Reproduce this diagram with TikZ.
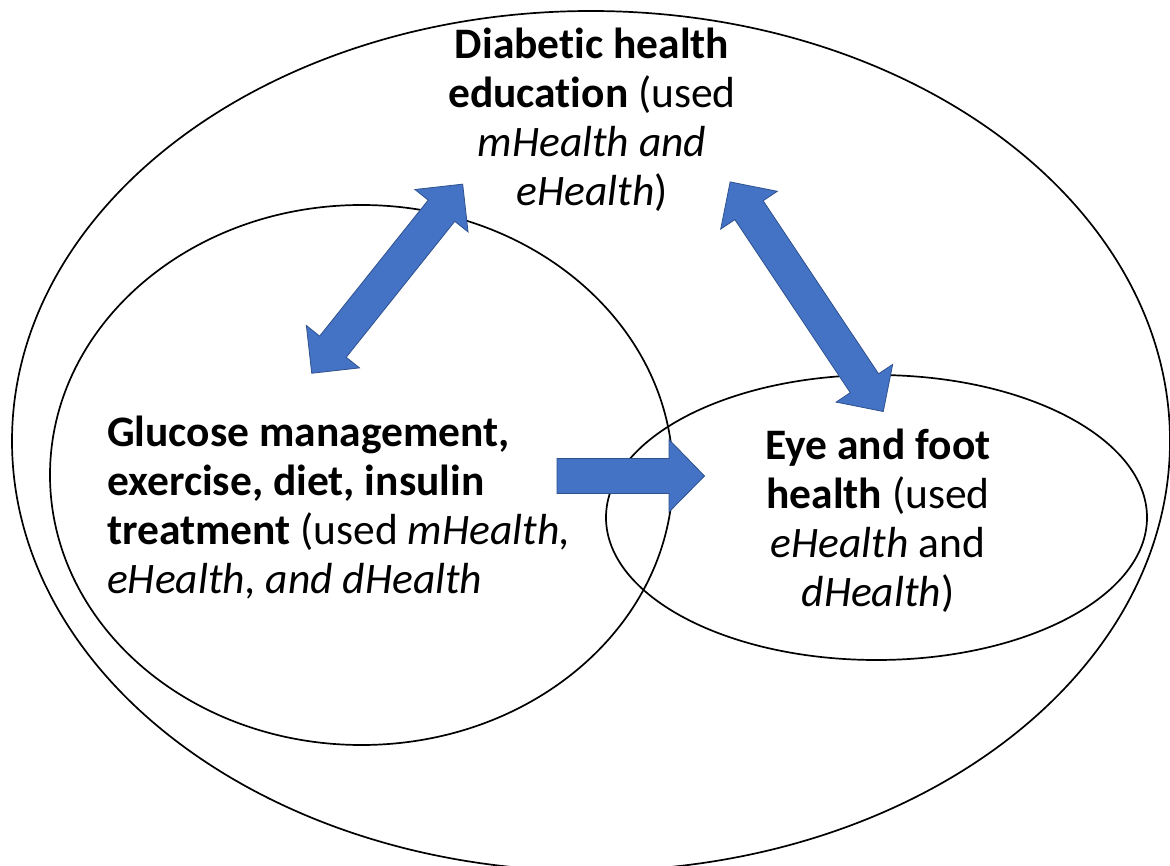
\documentclass[tikz,border=0pt]{standalone}
\usepackage{fontspec}
\setmainfont{Carlito}[Ligatures={NoCommon}]
\usetikzlibrary{shapes.geometric}
\definecolor{arrowblue}{HTML}{4472C4}
\definecolor{arrowedge}{HTML}{2F528F}
\begin{document}
\begin{tikzpicture}[x=1pt,y=-1pt,
  ring/.style={ellipse, draw=black, line width=1.7pt, inner sep=0pt},
  blockarrow/.style={fill=arrowblue, draw=arrowedge, line width=0.8pt, line join=miter},
  label/.style={inner sep=0pt, font=\fontsize{43.5}{49}\selectfont}]
\useasboundingbox (0,0) rectangle (1170,866);
\fill[white] (0,0) rectangle (1170,866);
% ellipses
\node[ring, minimum width=1158pt, minimum height=860pt] (outer) at (591,441) {};
\node[ring, minimum width=623pt, minimum height=540pt] (leftc) at (361.5,475) {};
\node[ring, minimum width=541pt, minimum height=285pt] (rightc) at (876.5,517.5) {};
% double arrow 1
\begin{scope}[shift={(387.2,278.7)}, rotate=51.4]
\path[blockarrow] (-121,0) -- (-87,34) -- (-87,17) -- (87,17) -- (87,34) -- (121,0)
  -- (87,-34) -- (87,-17) -- (-87,-17) -- (-87,-34) -- cycle;
\end{scope}
% double arrow 2
\begin{scope}[shift={(806.7,296.7)}, rotate=-56.3]
\path[blockarrow] (-138,0) -- (-104,34) -- (-104,17) -- (104,17) -- (104,34) -- (138,0)
  -- (104,-34) -- (104,-17) -- (-104,-17) -- (-104,-34) -- cycle;
\end{scope}
% single arrow
\path[blockarrow] (557,458.5) -- (669,458.5) -- (669,439.5) -- (704.5,476)
  -- (669,512) -- (669,493.5) -- (557,493.5) -- cycle;
% texts
\node[label, align=center, anchor=north] (edu) at (592,26)
  {\rule{0pt}{32pt}\textbf{Diabetic health}\\ \textbf{education} (used\\ \textit{mHealth and}\\ \textit{eHealth})};
\node[label, align=left, anchor=north west] (glu) at (107,414)
  {\rule{0pt}{32pt}\textbf{Glucose management,}\\ \textbf{exercise, diet, insulin}\\ \textbf{treatment} (used \textit{mHealth,}\\ \textit{eHealth, and dHealth}};
\node[label, align=center, anchor=north] (eye) at (878,427)
  {\rule{0pt}{32pt}\textbf{Eye and foot}\\ \textbf{health} (used\\ \textit{eHealth} and\\ \textit{dHealth})};
\end{tikzpicture}
\end{document}
